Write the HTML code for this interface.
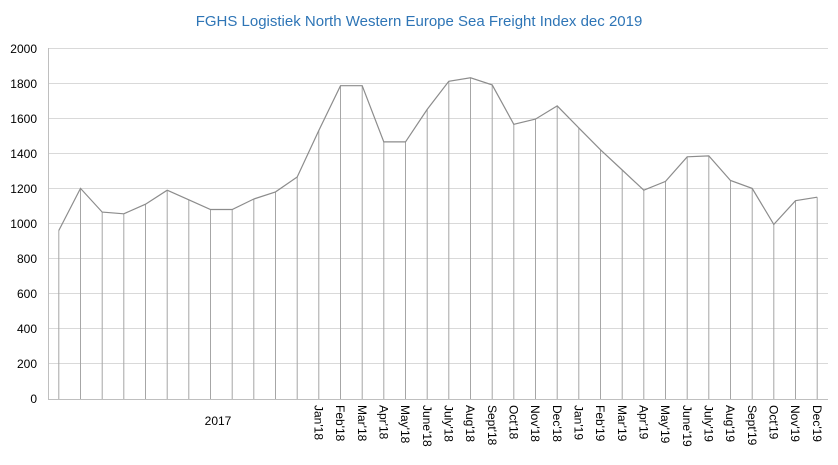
<!DOCTYPE html>
<html><head><meta charset="utf-8"><style>body{margin:0;background:#fff}svg{display:block}</style></head><body>
<svg width="838" height="465" xmlns="http://www.w3.org/2000/svg" font-family="Liberation Sans, sans-serif">
<rect width="838" height="465" fill="#fff"/>
<text x="419" y="26" text-anchor="middle" font-size="15" fill="#2e75b6">FGHS Logistiek North Western Europe Sea Freight Index dec 2019</text>
<g stroke="#d9d9d9" stroke-width="1">
<line x1="48" x2="828" y1="48.5" y2="48.5"/><line x1="48" x2="828" y1="83.5" y2="83.5"/><line x1="48" x2="828" y1="118.5" y2="118.5"/><line x1="48" x2="828" y1="153.5" y2="153.5"/><line x1="48" x2="828" y1="188.5" y2="188.5"/><line x1="48" x2="828" y1="223.5" y2="223.5"/><line x1="48" x2="828" y1="258.5" y2="258.5"/><line x1="48" x2="828" y1="293.5" y2="293.5"/><line x1="48" x2="828" y1="328.5" y2="328.5"/><line x1="48" x2="828" y1="363.5" y2="363.5"/>
</g>
<g stroke="#bfbfbf"><line x1="48.5" y1="48" x2="48.5" y2="399"/><line x1="48" y1="399.5" x2="828" y2="399.5"/></g>
<g font-size="12" fill="#000" text-anchor="end">
<text x="37" y="53">2000</text><text x="37" y="88">1800</text><text x="37" y="123">1600</text><text x="37" y="158">1400</text><text x="37" y="193">1200</text><text x="37" y="228">1000</text><text x="37" y="263">800</text><text x="37" y="298">600</text><text x="37" y="333">400</text><text x="37" y="368">200</text><text x="37" y="403">0</text>
</g>
<g stroke="#a6a6a6" stroke-width="1">
<line x1="58.8" y1="230.5" x2="58.8" y2="399"/><line x1="80.5" y1="188.4" x2="80.5" y2="399"/><line x1="102.2" y1="212.1" x2="102.2" y2="399"/><line x1="123.8" y1="213.8" x2="123.8" y2="399"/><line x1="145.5" y1="204.2" x2="145.5" y2="399"/><line x1="167.2" y1="190.2" x2="167.2" y2="399"/><line x1="188.8" y1="199.8" x2="188.8" y2="399"/><line x1="210.5" y1="209.5" x2="210.5" y2="399"/><line x1="232.2" y1="209.5" x2="232.2" y2="399"/><line x1="253.8" y1="199" x2="253.8" y2="399"/><line x1="275.5" y1="191.9" x2="275.5" y2="399"/><line x1="297.2" y1="177" x2="297.2" y2="399"/><line x1="318.8" y1="130.5" x2="318.8" y2="399"/><line x1="340.5" y1="85.7" x2="340.5" y2="399"/><line x1="362.2" y1="85.7" x2="362.2" y2="399"/><line x1="383.8" y1="141.9" x2="383.8" y2="399"/><line x1="405.5" y1="141.9" x2="405.5" y2="399"/><line x1="427.2" y1="109.4" x2="427.2" y2="399"/><line x1="448.8" y1="81.3" x2="448.8" y2="399"/><line x1="470.5" y1="77.8" x2="470.5" y2="399"/><line x1="492.2" y1="84.9" x2="492.2" y2="399"/><line x1="513.8" y1="124.3" x2="513.8" y2="399"/><line x1="535.5" y1="119.1" x2="535.5" y2="399"/><line x1="557.2" y1="105.9" x2="557.2" y2="399"/><line x1="578.8" y1="127.9" x2="578.8" y2="399"/><line x1="600.5" y1="149.8" x2="600.5" y2="399"/><line x1="622.2" y1="170" x2="622.2" y2="399"/><line x1="643.8" y1="190.2" x2="643.8" y2="399"/><line x1="665.5" y1="181.4" x2="665.5" y2="399"/><line x1="687.2" y1="156.8" x2="687.2" y2="399"/><line x1="708.8" y1="155.9" x2="708.8" y2="399"/><line x1="730.5" y1="180.5" x2="730.5" y2="399"/><line x1="752.2" y1="188.4" x2="752.2" y2="399"/><line x1="773.8" y1="224.4" x2="773.8" y2="399"/><line x1="795.5" y1="200.7" x2="795.5" y2="399"/><line x1="817.2" y1="197.2" x2="817.2" y2="399"/>
</g>
<polyline fill="none" stroke="#8c8c8c" stroke-width="1.2" points="58.8,230.5 80.5,188.4 102.2,212.1 123.8,213.8 145.5,204.2 167.2,190.2 188.8,199.8 210.5,209.5 232.2,209.5 253.8,199 275.5,191.9 297.2,177 318.8,130.5 340.5,85.7 362.2,85.7 383.8,141.9 405.5,141.9 427.2,109.4 448.8,81.3 470.5,77.8 492.2,84.9 513.8,124.3 535.5,119.1 557.2,105.9 578.8,127.9 600.5,149.8 622.2,170 643.8,190.2 665.5,181.4 687.2,156.8 708.8,155.9 730.5,180.5 752.2,188.4 773.8,224.4 795.5,200.7 817.2,197.2"/>
<text x="218" y="425" font-size="12" text-anchor="middle">2017</text>
<g font-size="12" fill="#000" dy="0">
<text transform="translate(314.5,405) rotate(90)">Jan'18</text>
<text transform="translate(336.2,405) rotate(90)">Feb'18</text>
<text transform="translate(357.9,405) rotate(90)">Mar'18</text>
<text transform="translate(379.5,405) rotate(90)">Apr'18</text>
<text transform="translate(401.2,405) rotate(90)">May'18</text>
<text transform="translate(422.9,405) rotate(90)">June'18</text>
<text transform="translate(444.5,405) rotate(90)">July'18</text>
<text transform="translate(466.2,405) rotate(90)">Aug'18</text>
<text transform="translate(487.9,405) rotate(90)">Sept'18</text>
<text transform="translate(509.5,405) rotate(90)">Oct'18</text>
<text transform="translate(531.2,405) rotate(90)">Nov'18</text>
<text transform="translate(552.9,405) rotate(90)">Dec'18</text>
<text transform="translate(574.5,405) rotate(90)">Jan'19</text>
<text transform="translate(596.2,405) rotate(90)">Feb'19</text>
<text transform="translate(617.9,405) rotate(90)">Mar'19</text>
<text transform="translate(639.5,405) rotate(90)">Apr'19</text>
<text transform="translate(661.2,405) rotate(90)">May'19</text>
<text transform="translate(682.9,405) rotate(90)">June'19</text>
<text transform="translate(704.5,405) rotate(90)">July'19</text>
<text transform="translate(726.2,405) rotate(90)">Aug'19</text>
<text transform="translate(747.9,405) rotate(90)">Sept'19</text>
<text transform="translate(769.5,405) rotate(90)">Oct'19</text>
<text transform="translate(791.2,405) rotate(90)">Nov'19</text>
<text transform="translate(812.9,405) rotate(90)">Dec'19</text>
</g>
</svg>
</body></html>
